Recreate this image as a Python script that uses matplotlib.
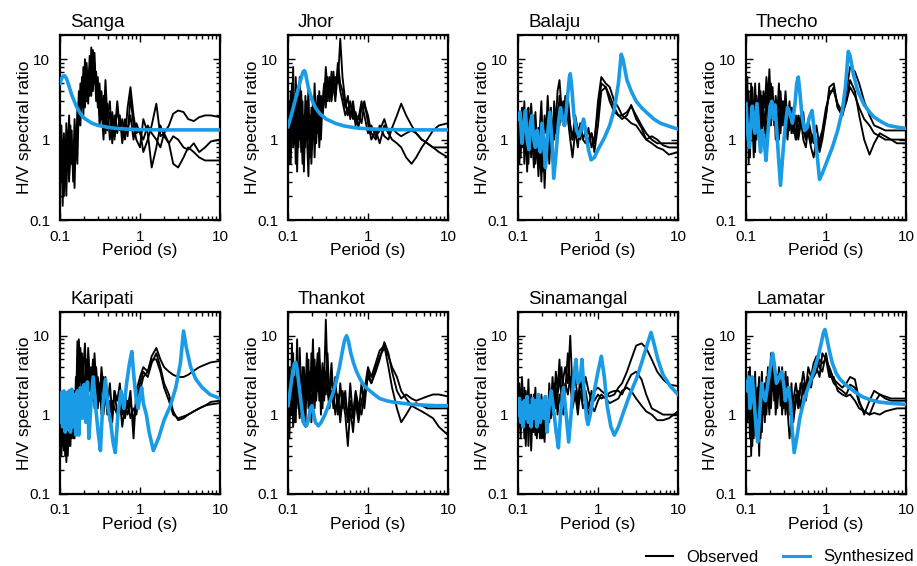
import matplotlib
matplotlib.use("Agg")
import matplotlib.pyplot as plt
from matplotlib.lines import Line2D
from matplotlib.ticker import FixedLocator, FixedFormatter, NullFormatter, LogLocator

plt.rcParams['font.family'] = ['Liberation Sans', 'DejaVu Sans']

BLUE = "#199be6"

# ======================
# DATA
# ======================
# period grid (s) for the observed H/V curves
PERIOD = [0.100, 0.104, 0.108, 0.112, 0.116, 0.120, 0.125, 0.130, 0.135, 0.140,
          0.146, 0.152, 0.158, 0.165, 0.172, 0.180, 0.188, 0.196, 0.205, 0.215,
          0.225, 0.235, 0.246, 0.258, 0.270, 0.283, 0.297, 0.312, 0.330, 0.350,
          0.370, 0.390, 0.420, 0.450, 0.480, 0.520, 0.560, 0.600, 0.650, 0.700,
          0.760, 0.830, 0.900, 1.000, 1.100, 1.250, 1.400, 1.600, 1.800, 2.000,
          2.300, 2.600, 3.000, 3.500, 4.000, 4.700, 5.500, 6.500, 7.700, 10.00]

# --- Sanga
SANGA_OBS_1 = [0.5, 1.5, 0.4, 1.2, 0.3, 1.6, 0.6, 2.0, 0.5, 1.3,
               0.3, 1.0, 0.6, 2.5, 1.5, 5.0, 2.5, 8.0, 3.0, 9.0,
               4.0, 11, 3.5, 13, 5.0, 7.0, 2.5, 5.0, 1.8, 3.5,
               1.2, 2.8, 1.0, 2.2, 1.1, 3.0, 1.3, 1.8, 1.0, 2.5,
               4.5, 2.0, 1.2, 1.3, 0.7, 1.0, 1.5, 2.8, 1.1, 1.2,
               1.5, 2.1, 2.3, 2.2, 1.8, 1.7, 1.9, 2.0, 2.0, 1.9]
SANGA_OBS_2 = [1.0, 0.3, 0.8, 0.2, 1.0, 0.4, 0.7, 0.3, 1.5, 0.5,
               0.8, 0.25, 1.2, 0.5, 3.0, 1.5, 6.0, 2.0, 10, 3.0,
               7.0, 3.5, 14, 4.5, 9.0, 3.0, 5.0, 2.0, 4.0, 1.5,
               5.5, 2.0, 3.0, 0.9, 2.0, 1.2, 2.0, 0.9, 1.6, 1.1,
               3.5, 1.5, 1.0, 0.8, 1.8, 1.2, 0.45, 0.8, 1.5, 1.1,
               0.9, 1.1, 1.0, 0.8, 0.75, 0.9, 0.7, 0.8, 0.95, 1.0]
SANGA_OBS_3 = [0.3, 0.9, 0.15, 0.7, 0.5, 0.2, 1.0, 0.35, 0.6, 0.9,
               0.4, 1.8, 0.9, 1.2, 4.0, 2.0, 3.0, 6.0, 2.5, 7.0,
               2.8, 8.0, 5.0, 4.0, 12, 3.5, 6.0, 1.5, 2.5, 1.0,
               3.0, 1.3, 2.2, 1.6, 1.0, 2.5, 1.5, 1.2, 1.8, 1.3,
               2.0, 1.0, 1.6, 1.2, 1.0, 1.5, 1.2, 1.0, 0.8, 1.2,
               0.9, 0.5, 0.45, 0.6, 0.8, 0.7, 0.6, 0.55, 0.55, 0.55]
SANGA_SYN_T = [0.1, 0.105, 0.11, 0.115, 0.12, 0.13, 0.14, 0.16, 0.18, 0.2,
               0.25, 0.3, 0.4, 0.5, 0.7, 1, 2, 5, 10]
SANGA_SYN = [5.0, 5.8, 6.2, 6.2, 5.8, 4.6, 3.6, 2.6, 2.1, 1.85,
             1.6, 1.5, 1.42, 1.38, 1.35, 1.33, 1.32, 1.32, 1.32]

# --- Jhor
JHOR_OBS_1 = [0.6, 3.0, 1.0, 5.0, 0.8, 2.5, 0.5, 4.0, 1.2, 6.0,
              0.7, 3.0, 0.4, 2.0, 1.0, 4.5, 0.6, 2.5, 1.0, 5.0,
              1.5, 3.5, 0.8, 2.5, 2.0, 4.0, 5.0, 3.0, 6.0, 4.0,
              7.0, 3.5, 9.0, 5.0, 4.0, 2.5, 3.5, 1.8, 2.5, 1.5,
              2.0, 1.6, 2.8, 2.0, 1.2, 1.0, 1.5, 1.1, 1.0, 1.4,
              2.0, 2.8, 2.0, 1.5, 1.2, 1.0, 0.9, 0.8, 0.7, 0.6]
JHOR_OBS_2 = [2.0, 0.5, 4.0, 1.5, 8.0, 0.9, 3.5, 0.4, 2.0, 1.0,
              4.0, 1.5, 0.6, 3.5, 1.2, 0.35, 2.0, 0.9, 3.0, 0.6,
              2.5, 1.2, 4.0, 1.0, 3.0, 5.0, 2.5, 6.0, 3.0, 7.0,
              4.0, 6.0, 5.0, 18, 6.0, 3.0, 2.0, 3.0, 1.8, 2.2,
              1.4, 2.5, 3.0, 1.6, 1.0, 1.3, 0.9, 1.5, 1.2, 1.0,
              0.9, 0.8, 0.6, 0.5, 0.6, 0.8, 1.0, 1.3, 1.5, 1.6]
JHOR_OBS_3 = [1.2, 2.0, 0.5, 1.5, 3.0, 1.0, 6.0, 1.5, 0.8, 2.5,
              1.5, 0.5, 2.0, 0.8, 3.0, 1.0, 1.8, 0.5, 1.5, 2.5,
              0.9, 2.0, 1.5, 3.5, 2.0, 3.0, 8.0, 4.0, 5.0, 3.0,
              5.0, 3.0, 7.0, 4.0, 3.0, 2.0, 2.5, 2.0, 3.0, 1.7,
              1.8, 3.0, 2.0, 1.2, 1.5, 1.1, 1.3, 1.8, 1.2, 1.4,
              1.2, 1.1, 1.2, 1.3, 1.2, 1.0, 0.9, 0.8, 0.8, 0.8]
JHOR_SYN_T = [0.1, 0.11, 0.12, 0.13, 0.14, 0.15, 0.155, 0.16, 0.165, 0.17,
              0.18, 0.2, 0.22, 0.25, 0.3, 0.4, 0.5, 0.7, 1, 2,
              5, 10]
JHOR_SYN = [1.45, 2.0, 2.8, 3.8, 5.0, 6.4, 7.0, 7.2, 6.8, 5.8,
            4.4, 3.1, 2.5, 2.1, 1.8, 1.58, 1.48, 1.4, 1.36, 1.33,
            1.32, 1.32]

# --- Balaju
BALAJU_OBS_1 = [0.6, 2.0, 0.9, 2.5, 1.2, 3.0, 0.8, 1.8, 2.5, 1.0,
                2.8, 1.5, 0.7, 2.2, 1.0, 0.5, 1.5, 3.0, 0.8, 2.0,
                1.2, 3.5, 1.5, 2.5, 0.8, 3.0, 1.5, 4.0, 5.5, 2.5,
                3.0, 1.5, 3.5, 1.5, 1.0, 2.0, 1.2, 1.5, 1.0, 1.3,
                0.9, 1.2, 0.9, 3.0, 6.0, 5.0, 4.5, 3.0, 2.5, 2.0,
                2.2, 2.6, 2.0, 1.5, 1.2, 1.0, 0.9, 0.9, 0.9, 0.9]
BALAJU_OBS_2 = [1.5, 0.5, 1.2, 0.8, 2.5, 0.5, 1.5, 0.4, 1.0, 2.0,
                0.6, 1.2, 2.0, 0.5, 1.0, 0.35, 0.8, 0.3, 1.2, 0.25,
                0.8, 1.8, 0.5, 1.2, 0.9, 2.0, 1.2, 2.5, 1.5, 3.0,
                1.6, 2.5, 1.8, 1.0, 0.6, 1.3, 0.8, 1.6, 1.0, 0.9,
                1.4, 0.8, 1.0, 2.2, 5.0, 4.5, 3.5, 2.5, 2.0, 1.8,
                2.0, 2.7, 1.8, 1.4, 1.0, 0.9, 0.8, 0.75, 0.65, 0.7]
BALAJU_OBS_3 = [0.9, 1.5, 0.6, 1.8, 0.9, 1.4, 2.0, 1.0, 0.5, 1.2,
                1.6, 0.9, 0.45, 1.2, 0.6, 1.4, 0.9, 0.6, 0.4, 1.0,
                0.5, 1.0, 2.0, 0.7, 1.6, 1.0, 1.8, 1.5, 3.5, 2.0,
                1.5, 3.5, 2.2, 1.5, 1.0, 1.8, 1.4, 1.0, 1.8, 1.1,
                1.0, 1.2, 0.7, 1.5, 4.0, 4.5, 3.0, 2.2, 2.0, 2.0,
                1.8, 1.6, 1.5, 1.2, 1.0, 1.1, 1.0, 0.85, 0.8, 0.8]
BALAJU_SYN_T = [0.1, 0.106, 0.112, 0.118, 0.124, 0.13, 0.137, 0.143, 0.15, 0.157,
                0.165, 0.173, 0.18, 0.19, 0.2, 0.21, 0.22, 0.235, 0.25, 0.265,
                0.28, 0.3, 0.32, 0.34, 0.36, 0.38, 0.4, 0.42, 0.44, 0.45,
                0.47, 0.5, 0.54, 0.58, 0.62, 0.66, 0.7, 0.76, 0.82, 0.9,
                1.0, 1.2, 1.4, 1.6, 1.8, 1.95, 2.05, 2.3, 2.6, 3.0,
                3.5, 4.0, 5.0, 6.0, 8.0, 10]
BALAJU_SYN = [1.8, 2.2, 0.9, 1.5, 2.3, 1.0, 0.75, 1.6, 2.0, 1.0,
              0.8, 1.3, 0.9, 0.7, 1.6, 0.9, 0.45, 1.2, 2.2, 1.0,
              0.33, 0.7, 1.6, 2.5, 1.8, 1.5, 2.2, 3.8, 6.0, 6.6,
              4.5, 2.0, 1.3, 1.1, 1.4, 1.8, 1.3, 0.75, 0.56, 0.6,
              0.75, 1.05, 1.5, 2.4, 5.0, 11.5, 10.0, 5.5, 4.0, 3.0,
              2.5, 2.2, 1.8, 1.6, 1.45, 1.35]

# --- Thecho
THECHO_OBS_1 = [1.0, 6.0, 0.5, 3.0, 1.2, 4.5, 2.0, 0.7, 3.5, 1.5,
                5.0, 2.0, 1.0, 4.0, 2.5, 6.0, 3.0, 7.5, 2.5, 4.5,
                1.5, 3.5, 2.0, 5.0, 1.2, 3.0, 2.0, 4.0, 1.5, 3.0,
                1.2, 2.5, 1.0, 2.0, 1.5, 2.2, 1.0, 1.8, 1.2, 0.9,
                1.5, 0.8, 1.2, 2.0, 4.5, 5.0, 2.5, 2.0, 4.0, 8.0,
                7.0, 5.0, 3.0, 2.0, 1.5, 1.4, 1.3, 1.3, 1.3, 1.3]
THECHO_OBS_2 = [3.0, 0.8, 2.0, 1.0, 5.0, 1.8, 0.6, 2.5, 1.0, 3.0,
                1.2, 0.8, 3.5, 1.5, 2.0, 1.0, 3.0, 1.5, 5.0, 1.8,
                3.0, 1.0, 2.5, 1.5, 4.0, 2.0, 1.5, 2.5, 1.0, 2.0,
                2.5, 1.5, 1.0, 1.3, 2.0, 1.0, 0.8, 1.5, 0.9, 1.2,
                0.7, 1.0, 1.3, 2.5, 3.5, 4.5, 2.5, 2.0, 3.0, 5.5,
                4.0, 2.0, 1.0, 0.65, 0.9, 1.2, 1.1, 1.0, 1.0, 1.0]
THECHO_OBS_3 = [2.0, 1.5, 4.0, 0.6, 2.0, 3.0, 1.0, 5.0, 2.0, 1.2,
                2.5, 4.0, 1.5, 2.5, 1.2, 3.5, 1.8, 5.0, 1.5, 3.0,
                2.5, 1.5, 3.0, 1.0, 2.5, 1.5, 3.0, 1.6, 2.0, 1.3,
                1.8, 1.2, 2.0, 1.0, 1.5, 1.3, 1.0, 1.2, 0.8, 0.6,
                1.0, 0.7, 1.0, 2.0, 4.0, 4.0, 2.8, 2.2, 3.0, 4.5,
                3.5, 2.5, 1.8, 1.5, 1.2, 1.1, 1.0, 1.0, 0.9, 0.9]
THECHO_SYN_T = [0.1, 0.105, 0.11, 0.115, 0.12, 0.125, 0.13, 0.137, 0.145, 0.152,
                0.16, 0.17, 0.178, 0.19, 0.2, 0.21, 0.22, 0.23, 0.24, 0.255,
                0.27, 0.29, 0.31, 0.33, 0.35, 0.38, 0.41, 0.43, 0.45, 0.47,
                0.5, 0.54, 0.58, 0.62, 0.67, 0.72, 0.78, 0.83, 0.9, 1.0,
                1.2, 1.4, 1.6, 1.75, 1.9, 2.0, 2.2, 2.5, 3.0, 3.5,
                4.0, 5.0, 6.0, 8.0, 10]
THECHO_SYN = [2.8, 1.2, 0.8, 1.6, 2.6, 1.5, 1.2, 2.8, 1.2, 0.7,
              1.3, 0.9, 0.55, 1.4, 2.6, 3.0, 1.8, 2.7, 1.5, 0.6,
              0.27, 0.7, 1.5, 2.5, 2.2, 1.6, 2.8, 5.0, 6.0, 4.0,
              2.0, 1.3, 1.4, 1.9, 2.3, 1.2, 0.6, 0.32, 0.38, 0.5,
              0.8, 1.3, 2.3, 4.5, 12.5, 11.0, 6.5, 4.0, 2.7, 2.2,
              1.9, 1.65, 1.5, 1.42, 1.38]

# --- Karipati
KARIPATI_OBS_1 = [0.5, 1.2, 0.4, 0.9, 0.3, 1.4, 0.6, 1.0, 0.4, 1.3,
                  0.5, 2.0, 1.0, 8.5, 2.0, 5.0, 1.5, 4.0, 8.0, 2.0,
                  5.5, 2.0, 4.0, 1.5, 6.0, 2.5, 3.0, 1.5, 4.0, 2.0,
                  3.0, 1.2, 2.5, 1.0, 2.0, 1.5, 2.5, 1.0, 1.8, 1.2,
                  2.0, 0.5, 2.0, 3.0, 4.0, 3.5, 5.5, 7.0, 5.0, 4.0,
                  3.5, 3.2, 3.0, 3.0, 3.2, 3.6, 4.0, 4.3, 4.6, 4.8]
KARIPATI_OBS_2 = [0.9, 0.3, 0.7, 0.5, 1.0, 0.25, 0.7, 0.4, 1.5, 0.5,
                  1.0, 0.6, 3.0, 1.5, 9.0, 3.0, 6.0, 2.0, 3.0, 1.2,
                  7.0, 3.0, 2.0, 5.0, 1.8, 3.0, 1.2, 2.5, 1.0, 3.0,
                  1.5, 2.0, 0.8, 1.5, 1.2, 1.0, 1.5, 0.7, 1.3, 1.0,
                  1.5, 0.8, 1.5, 2.5, 3.5, 3.0, 4.5, 6.0, 4.0, 2.5,
                  1.8, 1.1, 0.85, 0.9, 1.0, 1.1, 1.2, 1.3, 1.35, 1.4]
KARIPATI_OBS_3 = [0.7, 0.6, 1.1, 0.35, 0.8, 0.6, 0.3, 0.9, 0.5, 0.7,
                  1.2, 0.5, 1.5, 4.0, 2.5, 7.0, 2.0, 5.0, 1.5, 5.0,
                  2.5, 4.0, 1.5, 3.5, 1.2, 4.0, 2.0, 1.5, 3.0, 1.0,
                  2.0, 1.0, 1.5, 0.8, 2.0, 1.0, 1.2, 1.8, 0.9, 1.5,
                  0.9, 1.2, 1.0, 2.0, 3.0, 3.5, 5.0, 5.0, 3.5, 2.2,
                  1.5, 1.0, 0.9, 0.95, 1.0, 1.1, 1.2, 1.3, 1.45, 1.5]
KARIPATI_SYN_T = [0.1, 0.104, 0.108, 0.112, 0.116, 0.12, 0.125, 0.13, 0.135, 0.14,
                  0.146, 0.152, 0.158, 0.165, 0.172, 0.18, 0.19, 0.2, 0.21, 0.22,
                  0.23, 0.245, 0.26, 0.28, 0.3, 0.32, 0.34, 0.37, 0.4, 0.43,
                  0.46, 0.49, 0.53, 0.58, 0.63, 0.68, 0.74, 0.79, 0.84, 0.9,
                  0.95, 1.0, 1.05, 1.1, 1.2, 1.3, 1.47, 1.7, 2.0, 2.4,
                  2.8, 3.2, 3.5, 3.8, 4.3, 5.0, 6.0, 7.5, 10]
KARIPATI_SYN = [0.8, 1.9, 0.7, 2.0, 0.6, 1.9, 0.65, 2.0, 0.6, 2.1,
                0.7, 1.8, 0.55, 2.0, 0.55, 2.2, 0.9, 2.4, 0.8, 2.6,
                0.5, 1.5, 3.0, 1.2, 0.6, 0.35, 1.2, 2.8, 1.2, 0.8,
                0.45, 0.33, 1.0, 2.0, 1.2, 2.5, 4.5, 6.3, 3.0, 1.5,
                1.2, 1.8, 2.2, 1.4, 1.0, 0.6, 0.35, 0.5, 0.85, 1.3,
                2.2, 4.5, 11.5, 7.0, 4.0, 2.8, 2.2, 1.8, 1.6]

# --- Thankot
THANKOT_OBS_1 = [0.6, 4.0, 1.0, 8.0, 1.5, 3.0, 0.8, 5.0, 1.2, 7.0,
                 2.0, 0.8, 4.0, 1.5, 6.0, 1.2, 3.0, 2.0, 9.0, 1.5,
                 4.0, 2.0, 5.0, 1.0, 3.0, 2.5, 16, 3.0, 2.0, 4.5,
                 1.5, 3.0, 1.0, 2.5, 1.2, 2.0, 0.8, 2.5, 0.9, 1.8,
                 1.0, 2.5, 1.2, 3.5, 2.5, 3.5, 5.0, 8.3, 6.0, 3.5,
                 2.0, 1.6, 1.8, 1.6, 1.5, 1.6, 1.7, 1.8, 1.8, 1.7]
THANKOT_OBS_2 = [1.5, 0.5, 2.5, 1.0, 6.0, 0.8, 2.0, 9.0, 1.5, 0.9,
                 3.0, 1.2, 2.0, 0.7, 3.5, 5.0, 1.0, 6.0, 2.0, 1.2,
                 3.0, 6.0, 1.5, 2.5, 1.2, 4.0, 1.8, 6.0, 1.5, 3.0,
                 2.0, 1.0, 1.8, 0.8, 1.6, 1.0, 0.4, 1.2, 0.6, 1.5,
                 0.8, 1.5, 2.0, 4.0, 3.0, 4.5, 6.5, 7.5, 4.0, 2.2,
                 1.2, 0.8, 1.0, 1.3, 1.4, 1.3, 1.2, 1.2, 1.2, 1.2]
THANKOT_OBS_3 = [2.5, 1.0, 1.8, 3.5, 0.7, 2.2, 1.2, 1.6, 3.0, 1.0,
                 1.8, 4.0, 0.9, 2.5, 1.5, 2.0, 3.5, 0.8, 2.5, 5.0,
                 1.5, 2.8, 7.0, 2.0, 4.5, 1.5, 3.5, 2.0, 1.2, 2.0,
                 1.2, 2.2, 1.5, 1.0, 2.0, 1.3, 0.9, 1.5, 1.0, 2.0,
                 1.3, 1.0, 1.8, 3.0, 2.5, 4.0, 5.5, 7.0, 5.5, 4.0,
                 3.0, 2.0, 1.6, 1.3, 1.2, 1.1, 1.0, 0.9, 0.7, 0.55]
THANKOT_SYN_T = [0.1, 0.105, 0.11, 0.115, 0.12, 0.125, 0.13, 0.14, 0.15, 0.16,
                 0.17, 0.18, 0.19, 0.2, 0.21, 0.22, 0.24, 0.26, 0.29, 0.32,
                 0.36, 0.4, 0.44, 0.48, 0.51, 0.54, 0.57, 0.61, 0.66, 0.72,
                 0.8, 0.9, 1.0, 1.2, 1.4, 1.7, 2.0, 2.6, 3.5, 5.0,
                 7.0, 10]
THANKOT_SYN = [1.3, 1.8, 2.6, 3.6, 4.4, 4.6, 3.8, 2.0, 1.1, 0.75,
               0.72, 0.85, 1.2, 1.3, 1.0, 0.8, 0.72, 0.8, 1.0, 1.3,
               1.8, 2.6, 4.0, 6.5, 8.8, 10, 8.5, 6.0, 4.5, 3.5,
               2.8, 2.3, 2.1, 1.8, 1.6, 1.5, 1.45, 1.4, 1.35, 1.32,
               1.3, 1.3]

# --- Sinamangal
SINAMANGAL_OBS_1 = [0.6, 2.5, 1.0, 3.0, 1.5, 0.5, 2.0, 1.0, 2.8, 0.8,
                    1.8, 0.6, 1.2, 2.2, 0.7, 1.5, 0.5, 1.8, 1.0, 0.45,
                    1.5, 0.8, 2.5, 1.2, 3.0, 1.5, 3.5, 2.0, 5.0, 1.5,
                    3.0, 4.0, 2.5, 10, 2.0, 3.0, 1.5, 2.5, 2.0, 3.0,
                    2.0, 1.5, 2.0, 2.2, 2.0, 1.8, 1.7, 1.8, 2.2, 2.5,
                    3.5, 5.0, 7.5, 8.0, 7.0, 5.0, 3.5, 2.8, 2.4, 2.3]
SINAMANGAL_OBS_2 = [2.5, 1.0, 0.5, 1.5, 0.8, 2.2, 0.4, 1.2, 0.6, 1.5,
                    0.35, 1.0, 0.6, 1.4, 0.5, 1.0, 0.8, 0.5, 1.3, 0.7,
                    0.6, 1.2, 0.8, 2.0, 1.0, 2.5, 1.2, 1.8, 2.5, 4.0,
                    1.5, 2.0, 6.0, 2.5, 1.5, 2.0, 1.2, 3.0, 1.5, 2.0,
                    1.2, 2.0, 1.5, 1.8, 1.6, 1.7, 1.9, 2.0, 2.0, 1.8,
                    2.5, 3.2, 3.5, 2.8, 1.8, 1.2, 1.1, 1.0, 1.0, 1.0]
SINAMANGAL_OBS_3 = [1.5, 0.7, 1.8, 0.9, 1.2, 1.0, 0.7, 1.6, 0.4, 1.0,
                    1.2, 0.8, 1.8, 0.55, 1.0, 0.6, 1.2, 1.5, 0.5, 1.0,
                    1.3, 0.6, 1.5, 0.9, 1.8, 1.2, 2.2, 1.0, 1.8, 1.2,
                    1.0, 2.5, 1.8, 3.0, 1.2, 1.8, 1.0, 2.0, 1.2, 1.5,
                    1.0, 1.3, 1.1, 1.5, 1.8, 1.6, 1.4, 1.5, 1.6, 2.0,
                    2.2, 2.0, 1.6, 1.3, 1.1, 1.0, 0.85, 0.85, 0.9, 1.1]
SINAMANGAL_SYN_T = [0.1, 0.104, 0.108, 0.112, 0.116, 0.12, 0.125, 0.13, 0.135, 0.14,
                    0.146, 0.152, 0.158, 0.165, 0.172, 0.18, 0.19, 0.2, 0.21, 0.22,
                    0.23, 0.245, 0.26, 0.28, 0.3, 0.32, 0.34, 0.37, 0.4, 0.43,
                    0.46, 0.5, 0.53, 0.56, 0.6, 0.63, 0.67, 0.72, 0.75, 0.8,
                    0.9, 1.0, 1.1, 1.2, 1.3, 1.45, 1.6, 1.8, 2.1, 2.5,
                    3.0, 3.5, 4.0, 4.6, 5.0, 5.6, 6.5, 8.0, 10]
SINAMANGAL_SYN = [1.0, 1.6, 0.8, 1.4, 0.7, 1.5, 0.9, 1.7, 0.8, 1.3,
                  0.7, 1.6, 0.9, 1.5, 0.7, 1.8, 0.8, 1.5, 0.9, 1.7,
                  0.6, 1.3, 2.0, 1.1, 0.6, 0.38, 1.0, 2.2, 1.0, 0.45,
                  1.0, 3.0, 5.0, 2.5, 2.8, 5.0, 2.0, 0.9, 0.75, 1.0,
                  2.0, 3.5, 5.5, 3.0, 1.3, 0.7, 0.55, 0.7, 1.1, 1.8,
                  2.8, 4.5, 7.0, 11.0, 8.0, 5.0, 3.2, 2.3, 1.8]

# --- Lamatar
LAMATAR_OBS_1 = [0.6, 3.0, 1.0, 4.0, 0.3, 2.0, 1.2, 3.5, 0.9, 2.2,
                 0.3, 1.5, 3.5, 1.0, 2.5, 1.2, 4.0, 1.5, 2.5, 5.0,
                 1.5, 3.0, 1.2, 2.5, 1.8, 4.0, 1.2, 2.0, 3.0, 1.0,
                 2.5, 0.8, 1.5, 2.0, 1.2, 2.5, 1.8, 3.0, 2.2, 3.5,
                 4.0, 3.0, 6.0, 5.0, 4.0, 2.8, 2.5, 2.2, 2.5, 3.0,
                 2.8, 1.5, 1.0, 1.5, 2.0, 1.8, 1.6, 1.5, 1.5, 1.5]
LAMATAR_OBS_2 = [2.0, 0.8, 2.5, 0.5, 1.8, 0.4, 2.5, 1.0, 0.6, 1.5,
                 3.0, 0.5, 1.2, 2.0, 0.8, 3.0, 2.0, 1.0, 6.0, 2.0,
                 3.5, 1.0, 2.0, 4.0, 1.3, 2.5, 1.5, 3.5, 1.2, 0.5,
                 0.8, 1.5, 2.5, 1.5, 2.0, 3.5, 2.0, 4.0, 3.0, 4.5,
                 5.5, 4.0, 3.5, 6.0, 3.5, 2.5, 2.2, 2.0, 1.8, 2.4,
                 2.2, 1.4, 1.1, 1.0, 1.4, 1.8, 1.7, 1.6, 1.6, 1.6]
LAMATAR_OBS_3 = [1.5, 1.0, 3.5, 0.7, 1.2, 2.8, 0.5, 1.6, 2.0, 0.8,
                 1.8, 1.0, 0.6, 2.2, 1.5, 1.0, 2.8, 1.8, 1.2, 3.0,
                 2.0, 1.5, 3.2, 2.0, 2.5, 1.0, 2.8, 1.0, 2.0, 1.5,
                 1.2, 0.9, 1.8, 1.2, 2.5, 2.0, 1.5, 2.5, 2.8, 3.0,
                 3.5, 5.0, 4.5, 5.0, 3.0, 3.0, 2.0, 1.8, 1.7, 1.8,
                 1.5, 1.2, 1.1, 1.0, 1.05, 1.0, 1.1, 1.15, 1.2, 1.2]
LAMATAR_SYN_T = [0.1, 0.104, 0.108, 0.112, 0.116, 0.12, 0.125, 0.13, 0.135, 0.14,
                 0.148, 0.157, 0.165, 0.175, 0.185, 0.195, 0.205, 0.215, 0.225, 0.24,
                 0.26, 0.28, 0.3, 0.31, 0.325, 0.34, 0.36, 0.38, 0.4, 0.43,
                 0.47, 0.52, 0.58, 0.65, 0.72, 0.8, 0.87, 0.93, 0.97, 1.02,
                 1.1, 1.2, 1.35, 1.5, 1.76, 2.2, 2.8, 3.5, 4.5, 6.0,
                 8.0, 10]
LAMATAR_SYN = [2.6, 2.0, 3.0, 1.2, 1.6, 3.0, 1.8, 1.0, 0.6, 0.45,
               1.0, 2.5, 1.8, 1.5, 2.2, 3.2, 4.5, 6.0, 4.5, 2.5,
               3.0, 3.5, 2.2, 1.5, 1.9, 2.2, 1.4, 0.6, 0.33, 0.5,
               0.9, 1.4, 2.0, 2.8, 3.8, 5.5, 8.0, 11, 12, 9.5,
               6.5, 4.5, 3.3, 2.8, 2.4, 2.0, 1.7, 1.55, 1.45, 1.4,
               1.37, 1.35]

STATIONS = ["Sanga", "Jhor", "Balaju", "Thecho",
            "Karipati", "Thankot", "Sinamangal", "Lamatar"]
OBSERVED = [
    [SANGA_OBS_1, SANGA_OBS_2, SANGA_OBS_3],
    [JHOR_OBS_1, JHOR_OBS_2, JHOR_OBS_3],
    [BALAJU_OBS_1, BALAJU_OBS_2, BALAJU_OBS_3],
    [THECHO_OBS_1, THECHO_OBS_2, THECHO_OBS_3],
    [KARIPATI_OBS_1, KARIPATI_OBS_2, KARIPATI_OBS_3],
    [THANKOT_OBS_1, THANKOT_OBS_2, THANKOT_OBS_3],
    [SINAMANGAL_OBS_1, SINAMANGAL_OBS_2, SINAMANGAL_OBS_3],
    [LAMATAR_OBS_1, LAMATAR_OBS_2, LAMATAR_OBS_3],
]
SYNTH = [
    (SANGA_SYN_T, SANGA_SYN), (JHOR_SYN_T, JHOR_SYN),
    (BALAJU_SYN_T, BALAJU_SYN), (THECHO_SYN_T, THECHO_SYN),
    (KARIPATI_SYN_T, KARIPATI_SYN), (THANKOT_SYN_T, THANKOT_SYN),
    (SINAMANGAL_SYN_T, SINAMANGAL_SYN), (LAMATAR_SYN_T, LAMATAR_SYN),
]

# ======================
# FIGURE
# ======================
W, H = 917, 566
fig = plt.figure(figsize=(W / 100, H / 100), dpi=100)

col_left = [60, 288, 518, 746]          # px
row_box = [(35, 220), (312, 493.5)]     # top, bottom px
ax_w = 160


def style_axes(ax):
    ax.set_xscale("log")
    ax.set_yscale("log")
    ax.set_xlim(0.1, 10)
    ax.set_ylim(0.1, 20)
    for axis in (ax.xaxis, ax.yaxis):
        axis.set_major_locator(FixedLocator([0.1, 1, 10]))
        axis.set_major_formatter(FixedFormatter(["0.1", "1", "10"]))
        axis.set_minor_locator(LogLocator(base=10, subs=range(2, 10)))
        axis.set_minor_formatter(NullFormatter())
    ax.tick_params(which="both", direction="in", top=True, right=True,
                   width=1, colors="black")
    ax.tick_params(which="major", length=5, labelsize=11, pad=7)
    ax.tick_params(which="minor", length=3)
    for s in ax.spines.values():
        s.set_linewidth(1.6)


for i, name in enumerate(STATIONS):
    r, c = divmod(i, 4)
    top, bot = row_box[r]
    h_px = bot - top
    ax = fig.add_axes([col_left[c] / W, 1 - bot / H, ax_w / W, h_px / H])
    style_axes(ax)

    for obs in OBSERVED[i]:
        ax.plot(PERIOD, obs, color="black", lw=1.35, zorder=2)
    syn_t, syn_v = SYNTH[i]
    ax.plot(syn_t, syn_v, color=BLUE, lw=2.6, zorder=3, solid_joinstyle="round")

    ax.set_xlabel("Period (s)", fontsize=12.5)
    ax.xaxis.set_label_coords(0.5, -23 / h_px)
    ax.set_ylabel("H/V spectral ratio", fontsize=12.5)
    ax.yaxis.set_label_coords(-28 / ax_w, 0.5)
    ax.text(10 / ax_w, 1 + 8 / h_px, name, transform=ax.transAxes,
            fontsize=13.5, ha="left", va="baseline")

# ======================
# LEGEND
# ======================
handles = [Line2D([], [], color="black", lw=1.5),
           Line2D([], [], color=BLUE, lw=2.2)]
fig.legend(handles, ["Observed", "Synthesized"], loc="center right",
           bbox_to_anchor=(914 / W, 1 - 557 / H), ncol=2, frameon=False,
           fontsize=12, handlelength=1.6, handletextpad=0.8,
           columnspacing=1.5, borderaxespad=0, borderpad=0)

fig.savefig("out.png", dpi=100, facecolor="white")
